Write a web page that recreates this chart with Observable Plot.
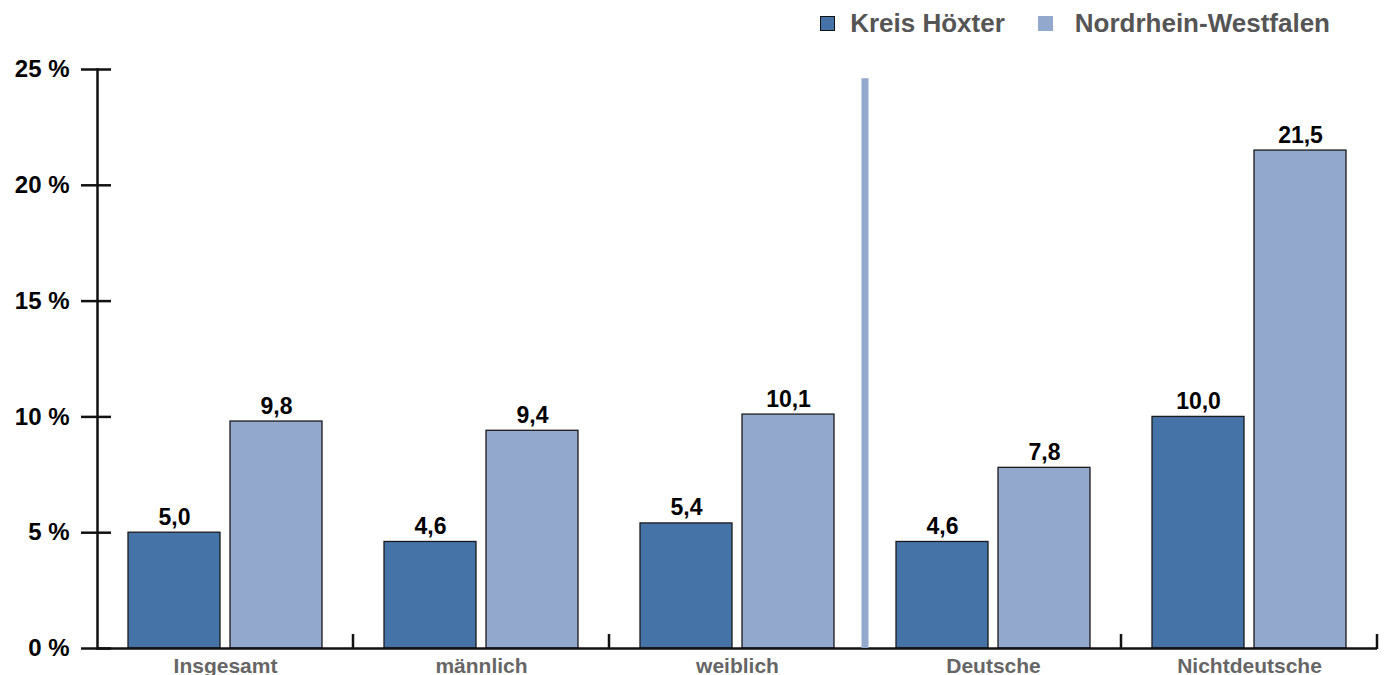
<!DOCTYPE html>
<html><head><meta charset="utf-8">
<script src="https://cdn.jsdelivr.net/npm/d3@7"></script>
<script src="https://cdn.jsdelivr.net/npm/@observablehq/plot@0.6"></script>
<style>
body{margin:0;background:#fff;font-family:"Liberation Sans",Arial,sans-serif;}
#legend{height:45px;display:flex;justify-content:flex-end;align-items:flex-start;padding-right:57px;box-sizing:border-box;}
.item{display:flex;align-items:center;margin-top:10px;font-size:26px;font-weight:bold;color:#555;line-height:1;}
.item + .item{margin-left:33px;}
.sw{width:15px;height:15px;margin-right:15px;box-sizing:border-box;}
.item + .item .sw{margin-right:22px;}
</style></head><body>
<div id="legend"></div><div id="chart"></div>
<script>
const categories = ["Insgesamt", "männlich", "weiblich", "Deutsche", "Nichtdeutsche"];
const series = ["Kreis Höxter", "Nordrhein-Westfalen"];
const kreisValues = [5.0, 4.6, 5.4, 4.6, 10.0];
const nrwValues = [9.8, 9.4, 10.1, 7.8, 21.5];
const colors = ["#4572A7", "#92A8CD"];
const yTicks = [0, 5, 10, 15, 20, 25];
const dividerAfter = "weiblich";
const dividerTop = 24.6;

const table = [];
categories.forEach((c, i) => {
  table.push({category: c, series: series[0], value: kreisValues[i]});
  table.push({category: c, series: series[1], value: nrwValues[i]});
});
const boundaries = categories.map(c => ({category: c, kind: c === dividerAfter ? "divider" : "tick"}));
const fmt = v => d3.format(".1f")(v).replace(".", ",");

const legend = document.getElementById("legend");
series.forEach((s, i) => {
  const it = document.createElement("div");
  it.className = "item";
  const sw = document.createElement("div");
  sw.className = "sw";
  sw.style.background = colors[i];
  if (i === 0) sw.style.border = "1.5px solid #111";
  it.appendChild(sw);
  it.appendChild(document.createTextNode(s));
  legend.appendChild(it);
});

// draws the group separators at the right edge of each facet, using the facet's x scale
function boundaryRender(index, scales) {
  const g = d3.create("svg:g");
  const xr = scales.x.range()[1];
  const y0 = scales.y(0);
  for (const i of index) {
    const d = boundaries[i];
    if (d.kind === "divider") {
      g.append("line").attr("x1", xr).attr("x2", xr).attr("y1", y0).attr("y2", scales.y(dividerTop))
        .attr("stroke", colors[1]).attr("stroke-width", 7);
    } else {
      g.append("line").attr("x1", xr).attr("x2", xr).attr("y1", y0 + 1).attr("y2", y0 - 14)
        .attr("stroke", "#111").attr("stroke-width", 2.5);
    }
  }
  return g.node();
}

const chart = Plot.plot({
  width: 1387,
  height: 630,
  marginLeft: 96,
  marginRight: 9,
  marginTop: 24,
  marginBottom: 27,
  style: {fontFamily: "'Liberation Sans', Arial, sans-serif", background: "#fff", overflow: "visible"},
  fx: {domain: categories, padding: 0, axis: null},
  x: {domain: series, paddingInner: 0.097, paddingOuter: 0.293, axis: null},
  y: {domain: [0, 25], axis: null},
  color: {domain: series, range: colors},
  marks: [
    Plot.barY(table, {fx: "category", x: "series", y: "value", fill: "series", stroke: "#1a1a1a", strokeWidth: 1.3}),
    Plot.text(table, {fx: "category", x: "series", y: "value", text: d => fmt(d.value), dy: -8, lineAnchor: "bottom",
      fontSize: 23, fontWeight: "bold", fill: "#000"}),
    Plot.ruleY([0], {stroke: "#111", strokeWidth: 2.5}),
    Plot.ruleX(boundaries, {fx: "category", x: () => series[1], y1: () => 0, y2: () => dividerTop, render: boundaryRender}),
    Plot.frame({anchor: "left", facetAnchor: "left", stroke: "#111", strokeWidth: 2.5}),
    Plot.axisY(yTicks, {tickSize: 16, tickPadding: 12, tickFormat: d => d + " %", fontSize: 24, fontWeight: "bold",
      fill: "#000", stroke: "#111", strokeWidth: 2.5, label: null}),
    Plot.axisY(yTicks, {tickSize: 14, dx: 14, tickFormat: () => "", stroke: "#111", strokeWidth: 2.5, label: null}),
    Plot.axisFx({anchor: "bottom", tickSize: 0, tickPadding: 10, fontSize: 21, fontWeight: "bold", fill: "#666", label: null})
  ]
});
document.getElementById("chart").appendChild(chart);
</script>
</body></html>
